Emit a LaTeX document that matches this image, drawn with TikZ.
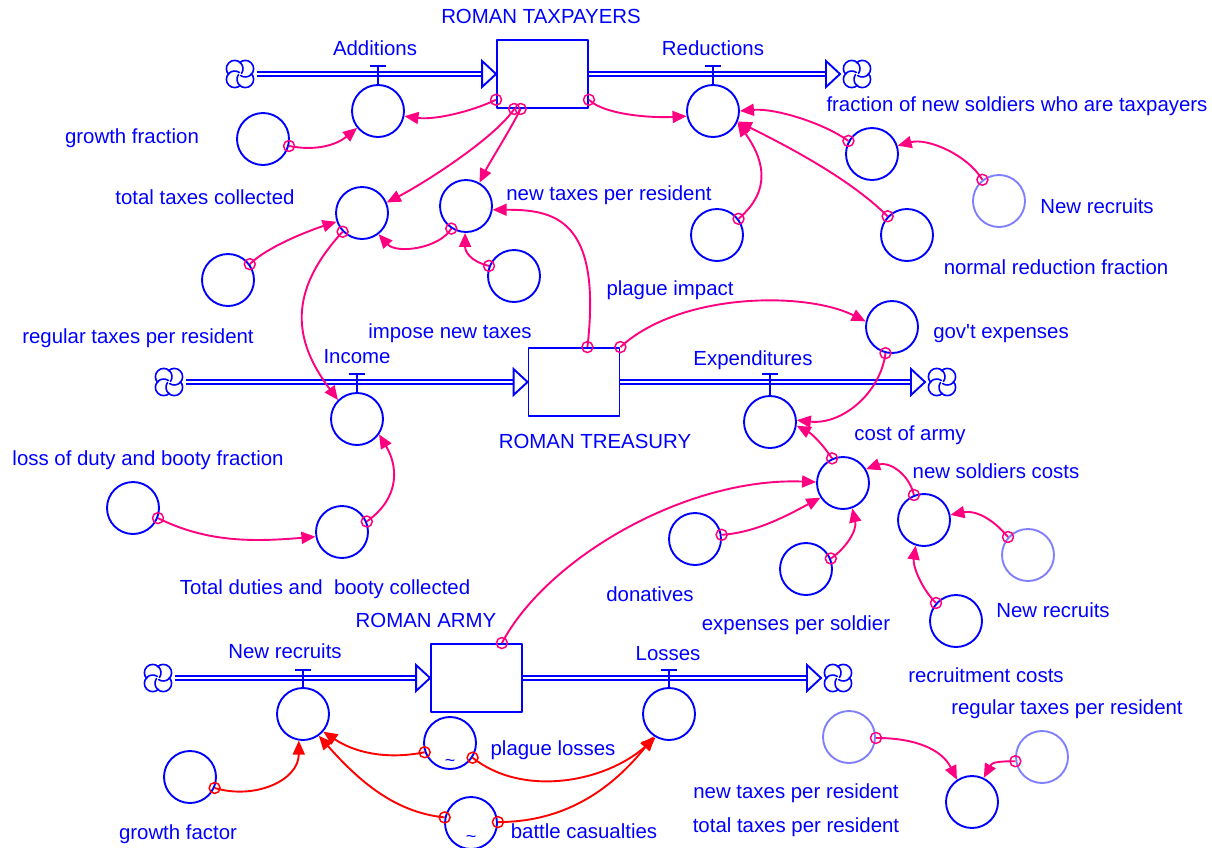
\documentclass[tikz,border=0pt]{standalone}
\usepackage{fontspec}
\setmainfont{Liberation Sans}
\usetikzlibrary{arrows.meta}
\definecolor{vblue}{RGB}{0,0,255}
\definecolor{vpink}{RGB}{255,0,128}
\definecolor{vred}{RGB}{255,0,0}
\definecolor{vghost}{RGB}{128,128,255}
\begin{document}
\begin{tikzpicture}[x=1pt,y=-1pt,line join=round,
  aux/.style={circle,draw=vblue,line width=1.9pt,minimum size=52pt,inner sep=0pt},
  ghost/.style={aux,draw=vghost},
  stock/.style={rectangle,draw=vblue,line width=1.9pt,minimum width=91pt,minimum height=68pt,inner sep=0pt},
  cloudn/.style={minimum size=34pt,inner sep=0pt,outer sep=0pt},
  lbl/.style={text=vblue,font=\fontsize{20.4}{24}\selectfont,inner sep=0pt,text height=14.6pt,text depth=0pt},
  tld/.style={text=vblue,font=\fontsize{18}{18}\selectfont,inner sep=0pt},
  ring/.style={circle,draw=vpink,line width=1.5pt,minimum size=11pt,inner sep=0pt,fill=none},
  redring/.style={ring,draw=vred},
  conn/.style={draw=vpink,line width=1.9pt,-{Triangle[length=14pt,width=12pt]}},
  rconn/.style={conn,draw=vred},
  pipe/.style={draw=vblue,double=white,double distance=2.3pt,line width=1.7pt},
  flowtip/.style={draw=vblue,line width=1.9pt,fill=white,line join=miter},
  valve/.style={draw=vblue,line width=1.9pt},
  vcloud/.pic={
    \fill[white] (0,0) circle (15);
    \foreach \a in {45,135,225,315}{\draw[vblue,line width=1.6pt,line cap=round] (\a:7.5) ++(\a-90:8.3) arc[start angle=\a-90,end angle=\a+170,radius=8.3];}}
]
\useasboundingbox (0,0) rectangle (1212,847);

% ---------- stocks ----------
\node[stock] (tp) at (542.5,74) {};
\node[stock] (tr) at (574,382) {};
\node[stock] (ar) at (476.5,678) {};

% ---------- clouds ----------
\node[cloudn] (c1) at (240,74) {};
\node[cloudn] (c2) at (857,74) {};
\node[cloudn] (c3) at (169,382) {};
\node[cloudn] (c4) at (942,382) {};
\node[cloudn] (c5) at (158,678) {};
\node[cloudn] (c6) at (838,678) {};
\foreach \c in {c1,c2,c3,c4,c5,c6} \pic at (\c) {vcloud};

% ---------- auxiliaries ----------
\node[aux] (add) at (378,111) {};
\node[aux] (red) at (713,111) {};
\node[aux] (gf) at (263,139) {};
\node[aux] (frac) at (872,154) {};
\node[ghost] (nrg1) at (999,201) {};
\node[aux] (tt) at (362,213) {};
\node[aux] (nt) at (466,206) {};
\node[aux] (imp) at (514,276) {};
\node[aux] (pimp) at (717,235) {};
\node[aux] (nrf) at (907,235) {};
\node[aux] (rtr) at (228,280) {};
\node[aux] (gov) at (892,327) {};
\node[aux] (inc) at (357,419) {};
\node[aux] (expc) at (770,422) {};
\node[aux] (coa) at (843,483) {};
\node[aux] (lfrac) at (133,508) {};
\node[aux] (tdb) at (342,532) {};
\node[aux] (nsc) at (924,520) {};
\node[ghost] (nrg2) at (1028,555) {};
\node[aux] (don) at (695,539) {};
\node[aux] (eps) at (806,569) {};
\node[aux] (rc) at (956,621) {};
\node[aux] (nr) at (303,714) {};
\node[aux] (los) at (669,714) {};
\node[aux] (gfac) at (190,777) {};
\node[aux] (pl) at (450,743) {};
\node[aux] (bc) at (471,823) {};
\node[ghost] (ntg) at (849,737) {};
\node[ghost] (rtg) at (1042,757) {};
\node[aux] (ttr) at (972,802) {};
\node[tld] (t1) at (450,763) {\textasciitilde};
\node[tld] (t2) at (471,839) {\textasciitilde};

% ---------- flows ----------
\draw[pipe] (c1.east) -- ([xshift=-14pt]tp.west);
\draw[flowtip] (tp.west) -- ++(-14,-13) -- ++(0,26) -- cycle;
\draw[pipe] (tp.east) -- ([xshift=-14pt]c2.west);
\draw[flowtip] (c2.west) -- ++(-14,-13) -- ++(0,26) -- cycle;
\draw[pipe] (c3.east) -- ([xshift=-14pt]tr.west);
\draw[flowtip] (tr.west) -- ++(-14,-13) -- ++(0,26) -- cycle;
\draw[pipe] (tr.east) -- ([xshift=-14pt]c4.west);
\draw[flowtip] (c4.west) -- ++(-14,-13) -- ++(0,26) -- cycle;
\draw[pipe] (c5.east) -- ([xshift=-14pt]ar.west);
\draw[flowtip] (ar.west) -- ++(-14,-13) -- ++(0,26) -- cycle;
\draw[pipe] (ar.east) -- ([xshift=-14pt]c6.west);
\draw[flowtip] (c6.west) -- ++(-14,-13) -- ++(0,26) -- cycle;

\draw[valve] (add.north) -- ++(0,-18) ++(-8,0) -- ++(16,0);
\draw[valve] (red.north) -- ++(0,-18) ++(-8,0) -- ++(16,0);
\draw[valve] (inc.north) -- ++(0,-18) ++(-8,0) -- ++(16,0);
\draw[valve] (expc.north) -- ++(0,-21) ++(-8,0) -- ++(16,0);
\draw[valve] (nr.north) -- ++(0,-17) ++(-8,0) -- ++(16,0);
\draw[valve] (los.north) -- ++(0,-17) ++(-8,0) -- ++(16,0);

% ---------- connectors ----------
\draw[conn] (gf.-15) node[ring]{} .. controls +(25,5) and +(-22,18) .. (add.219);
\draw[conn] (tp.209) node[ring]{} .. controls +(-25,12) and +(30,4) .. (add.-11);
\draw[conn] (tp.-129) node[ring]{} .. controls +(-20,30) and +(35,-18) .. (tt.23);
\draw[conn] (tp.-122) node[ring]{} .. controls +(-10,20) and +(10,-20) .. (nt.60);
\draw[conn] (tp.-29) node[ring]{} .. controls +(15,15) and +(-35,2) .. (red.191);
\draw[conn] (frac.151) node[ring]{} .. controls +(-25,-18) and +(35,-3) .. (red.0);
\draw[conn] (nrg1.128) node[ring]{} .. controls +(-15,-25) and +(30,-8) .. (frac.18);
\draw[conn] (pimp.37) node[ring]{} .. controls +(35,-30) and +(25,35) .. (red.-25);
\draw[conn] (nrf.136) node[ring]{} .. controls +(-40,-40) and +(40,20) .. (red.-23);
\draw[conn] (rtr.36) node[ring]{} .. controls +(18,-18) and +(-25,8) .. (tt.199);
\draw[conn] (nt.-123) node[ring]{} .. controls +(-12,20) and +(18,20) .. (tt.-52);
\draw[conn] (imp.158) node[ring]{} .. controls +(-20,-5) and +(0,18) .. (nt.-92);
\draw[conn] (tr.69) node[ring]{} .. controls +(15,-130) and +(60,0) .. (nt.-8);
\draw[conn] (tr.37) node[ring]{} .. controls +(60,-55) and +(-60,-30) .. (gov.168);
\draw[conn] (gov.-104) node[ring]{} .. controls +(-5,40) and +(45,5) .. (expc.4);
\draw[conn] (coa.114) node[ring]{} .. controls +(-10,-15) and +(15,8) .. (expc.-8);
\draw[conn] (nsc.112) node[ring]{} .. controls +(-5,-22) and +(22,-8) .. (coa.31);
\draw[conn] (nrg2.138) node[ring]{} .. controls +(-15,-18) and +(25,-5) .. (nsc.11);
\draw[conn] (rc.138) node[ring]{} .. controls +(-15,-15) and +(-3,20) .. (nsc.-108);
\draw[conn] (don.9) node[ring]{} .. controls +(35,-2) and +(-30,16) .. (coa.-147);
\draw[conn] (eps.23) node[ring]{} .. controls +(15,-10) and +(5,22) .. (coa.-70);
\draw[conn] (ar.54) node[ring]{} .. controls +(45,-85) and +(-130,-5) .. (coa.178);
\draw[conn] (tt.-136) node[ring]{} .. controls +(-55,60) and +(-45,-60) .. (inc.135);
\draw[conn] (lfrac.-22) node[ring]{} .. controls +(50,25) and +(-60,5) .. (tdb.190);
\draw[conn] (tdb.23) node[ring]{} .. controls +(35,-25) and +(18,30) .. (inc.-35);
\draw[conn] (ntg.-2) node[ring]{} .. controls +(40,0) and +(-15,-30) .. (ttr.124);
\draw[conn] (rtg.189) node[ring]{} .. controls +(-20,0) and +(8,-15) .. (ttr.64);

\draw[rconn] (gfac.-24) node[redring]{} .. controls +(40,12) and +(0,40) .. (nr.-99);
\draw[rconn] (pl.200) node[redring]{} .. controls +(-40,8) and +(30,20) .. (nr.-41);
\draw[rconn] (pl.-33) node[redring]{} .. controls +(50,40) and +(-50,45) .. (los.-120);
\draw[rconn] (bc.168) node[redring]{} .. controls +(-50,-5) and +(40,45) .. (nr.-54);
\draw[rconn] (bc.2) node[redring]{} .. controls +(70,0) and +(-40,50) .. (los.-124);

% ---------- labels ----------
\node[lbl] (l1) at (541,16) {ROMAN TAXPAYERS};
\node[lbl] (l2) at (375,48) {Additions};
\node[lbl] (l3) at (713,48) {Reductions};
\node[lbl] (l4) at (1017,104) {fraction of new soldiers who are taxpayers};
\node[lbl] (l5) at (132,136) {growth fraction};
\node[lbl] (l6) at (205,197) {total taxes collected};
\node[lbl] (l7) at (609,193) {new taxes per resident};
\node[lbl] (l8) at (1097,206) {New recruits};
\node[lbl] (l9) at (1056,267) {normal reduction fraction};
\node[lbl] (l10) at (670,288) {plague impact};
\node[lbl] (l11) at (138,336) {regular taxes per resident};
\node[lbl] (l12) at (450,331) {impose new taxes};
\node[lbl] (l13) at (1001,331) {gov\textquotesingle t expenses};
\node[lbl] (l14) at (357,356) {Income};
\node[lbl] (l15) at (753,358) {Expenditures};
\node[lbl] (l16) at (595,441) {ROMAN TREASURY};
\node[lbl] (l17) at (910,433) {cost of army};
\node[lbl] (l18) at (148,458) {loss of duty and booty fraction};
\node[lbl] (l19) at (996,471) {new soldiers costs};
\node[lbl] (l20) at (325,587) {Total duties and\ \ booty collected};
\node[lbl] (l21) at (650,594) {donatives};
\node[lbl] (l22) at (1053,610) {New recruits};
\node[lbl] (l23) at (796,623) {expenses per soldier};
\node[lbl] (l24) at (426,620) {ROMAN ARMY};
\node[lbl] (l25) at (285,651) {New recruits};
\node[lbl] (l26) at (668,653) {Losses};
\node[lbl] (l27) at (986,675) {recruitment costs};
\node[lbl] (l28) at (1067,707) {regular taxes per resident};
\node[lbl] (l29) at (553,748) {plague losses};
\node[lbl] (l30) at (796,791) {new taxes per resident};
\node[lbl] (l31) at (796,825) {total taxes per resident};
\node[lbl] (l32) at (178,832) {growth factor};
\node[lbl] (l33) at (584,831) {battle casualties};
\end{tikzpicture}
\end{document}
